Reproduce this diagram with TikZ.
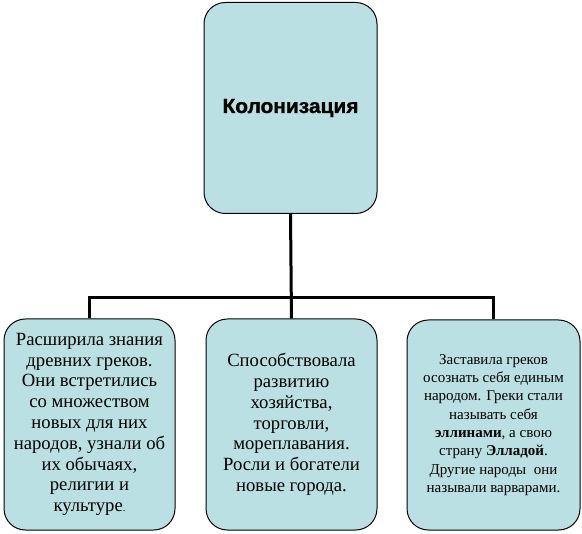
\documentclass[tikz,border=0pt]{standalone}
\usepackage{fontspec}
\setmainfont{Liberation Serif}
\newfontfamily\titlefont[FakeBold=1.2]{Liberation Sans}
\definecolor{boxfill}{RGB}{187,224,227}
\begin{document}
\begin{tikzpicture}[x=0.75pt,y=-0.75pt,
  box/.style={draw=black,line width=0.75pt,fill=boxfill,rounded corners=16pt,inner sep=0pt,align=center},
  bodytext/.style={font=\fontsize{14pt}{15.6pt}\selectfont},
  smalltext/.style={font=\fontsize{11.25pt}{13.7pt}\selectfont},
  conn/.style={line width=2.25pt}]
\useasboundingbox (0,0) rectangle (582,534);
\node[box,minimum width=129.75pt,minimum height=158.25pt] (top) at (290.5,108)
  {\resizebox{102pt}{10.5pt}{\titlefont\bfseries Колонизация}};
\node[box,bodytext,minimum width=128.25pt,minimum height=158.25pt] (left) at (89.5,424.5)
  {Расширила знания\\древних греков.\\Они встретились\\со множеством\\новых для них\\народов, узнали об\\их обычаях,\\религии и\\культуре{\fontsize{8pt}{8pt}\selectfont .}};
\node[box,bodytext,minimum width=128.25pt,minimum height=158.25pt] (mid) at (291.5,424.5)
  {Способствовала\\развитию\\хозяйства,\\торговли,\\мореплавания.\\Росли и богатели\\новые города.};
\node[box,smalltext,minimum width=129.75pt,minimum height=157.5pt] (right) at (493.5,425)
  {Заставила греков\\осознать себя единым\\народом. Греки стали\\называть себя\\\textbf{эллинами}, а свою\\страну \textbf{Элладой}.\\Другие народы~ они\\называли варварами.};
\coordinate (bus) at (290.5,298);
\draw[conn] (top.south) -- (mid.north);
\draw[conn] (left.north) |- (bus) -| (right.north);
\end{tikzpicture}
\end{document}
